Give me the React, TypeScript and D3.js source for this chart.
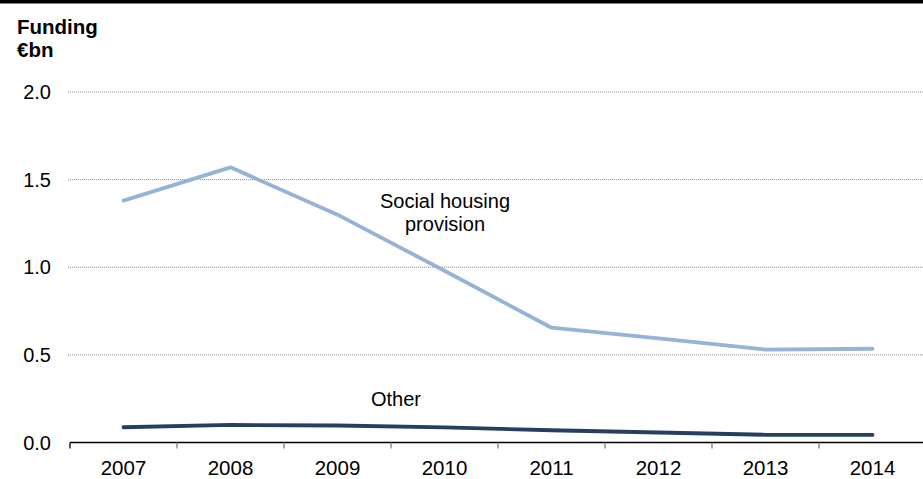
import React from "react";
import * as d3 from "d3";

const years = ["2007", "2008", "2009", "2010", "2011", "2012", "2013", "2014"];
const socialHousing = [1.38, 1.57, 1.3, 0.98, 0.655, 0.594, 0.53, 0.535];
const other = [0.087, 0.1, 0.097, 0.086, 0.07, 0.057, 0.044, 0.043];
const yTicks = [0, 0.5, 1.0, 1.5, 2.0];

const W = 923;
const H = 479;
const FONT = "Liberation Sans, Arial, sans-serif";

export default function App() {
  const x = d3.scaleBand<string>().domain(years).range([70, 926]).padding(0);
  const y = d3.scaleLinear().domain([0, 2]).range([442.5, 92]);
  const cx = (d: string) => (x(d) as number) + x.bandwidth() / 2;

  const line = d3
    .line<number>()
    .x((_, i) => cx(years[i]))
    .y((v) => y(v));

  return (
    <svg
      width={W}
      height={H}
      style={{ position: "absolute", left: 0, top: 0, background: "#fff" }}
      fontFamily={FONT}
    >
      <rect x={0} y={0} width={W} height={3.5} fill="#000" />
      <text x={17} y={34} fontSize={20.5} fontWeight="bold" fill="#000">
        Funding
      </text>
      <text x={17} y={57} fontSize={20.5} fontWeight="bold" fill="#000">
        €bn
      </text>

      {yTicks.map((t) => (
        <g key={t}>
          {t > 0 && (
            <line
              x1={68}
              x2={W}
              y1={y(t)}
              y2={y(t)}
              stroke="#8c8c8c"
              strokeWidth={1}
              strokeDasharray="1,1"
            />
          )}
          <text
            x={51}
            y={y(t)}
            dy="0.36em"
            textAnchor="end"
            fontSize={20}
            fill="#000"
          >
            {t.toFixed(1)}
          </text>
        </g>
      ))}

      <line x1={70} x2={W} y1={y(0)} y2={y(0)} stroke="#000" strokeWidth={1.3} />
      {years.map((yr, i) => (
        <line
          key={"t" + yr}
          x1={(x(yr) as number)}
          x2={(x(yr) as number)}
          y1={y(0)}
          y2={y(0) + 6}
          stroke={i === 0 ? "#000" : "#7f7f7f"}
          strokeWidth={1.3}
        />
      ))}
      {years.map((yr) => (
        <text
          key={"l" + yr}
          x={cx(yr)}
          y={475}
          textAnchor="middle"
          fontSize={20.5}
          fill="#000"
        >
          {yr}
        </text>
      ))}

      <path
        d={line(socialHousing) || ""}
        fill="none"
        stroke="#95b3d7"
        strokeWidth={3.8}
        strokeLinecap="round"
        strokeLinejoin="round"
      />
      <path
        d={line(other) || ""}
        fill="none"
        stroke="#243f60"
        strokeWidth={3.8}
        strokeLinecap="round"
        strokeLinejoin="round"
      />

      <text x={445} y={208} textAnchor="middle" fontSize={20} fill="#000">
        Social housing
      </text>
      <text x={445} y={231} textAnchor="middle" fontSize={20} fill="#000">
        provision
      </text>
      <text x={396} y={406} textAnchor="middle" fontSize={20} fill="#000">
        Other
      </text>
    </svg>
  );
}
